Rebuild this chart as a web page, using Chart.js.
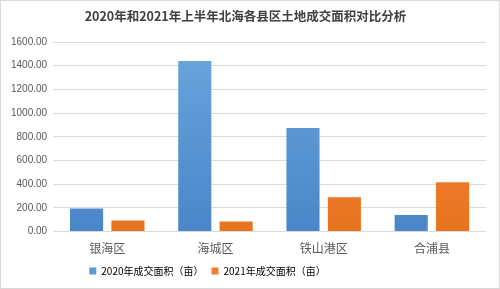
<!DOCTYPE html>
<html>
<head>
<meta charset="utf-8">
<script src="https://cdn.jsdelivr.net/npm/chart.js@4"></script>
<style>
    html, body { margin: 0; padding: 0; background: #fff; }
    #wrap { width: 500px; height: 289px; box-sizing: border-box; border: 1px solid #d9d9d9; }
</style>
</head>
<body>
<div id="wrap"><canvas id="landChart" width="498" height="287"></canvas></div>
<script>
// 데이터
const districts = ['银海区', '海城区', '铁山港区', '合浦县'];
const area2020 = [195, 1440, 875, 141];
const area2021 = [94, 85, 289, 417];
const yTicks = [0, 200, 400, 600, 800, 1000, 1200, 1400, 1600];

// 세로 그라데이션
function makeGradient(ctx, top, bottom) {
    const chart = ctx.chart;
    const area = chart.chartArea;
    if (!area) return bottom;
    const g = chart.ctx.createLinearGradient(0, area.top, 0, area.bottom);
    g.addColorStop(0, top);
    g.addColorStop(1, bottom);
    return g;
}

// 범례를 왼쪽으로 조금 이동
const legendShift = {
    id: 'legendShift',
    afterLayout(chart) {
        chart.legend.left -= 38;
        chart.legend.right -= 38;
    }
};

const fontFamily = '"Noto Sans CJK SC", "Noto Sans", sans-serif';

new Chart(document.getElementById('landChart'), {
    type: 'bar',
    data: {
        labels: districts,
        datasets: [{
            label: '2020年成交面积（亩）',
            data: area2020,
            backgroundColor: ctx => makeGradient(ctx, '#6aa5dc', '#4a86c8'),
            categoryPercentage: 0.765,
            barPercentage: 0.8
        }, {
            label: '2021年成交面积（亩）',
            data: area2021,
            backgroundColor: ctx => makeGradient(ctx, '#f08a3e', '#e8731f'),
            categoryPercentage: 0.765,
            barPercentage: 0.8
        }]
    },
    plugins: [legendShift],
    options: {
        responsive: false,
        animation: false,
        layout: { padding: { left: 4, right: 13, top: 4, bottom: 2 } },
        plugins: {
            title: {
                display: true,
                text: '2020年和2021年上半年北海各县区土地成交面积对比分析',
                color: '#404040',
                font: { family: fontFamily, size: 12.5, weight: 'bold' },
                padding: { top: 4, bottom: 18 }
            },
            legend: {
                position: 'bottom',
                labels: {
                    boxWidth: 7,
                    boxHeight: 7,
                    color: '#595959',
                    font: { family: fontFamily, size: 10 },
                    padding: 8,
                    generateLabels: chart => chart.data.datasets.map((ds, i) => ({
                        text: ds.label,
                        fillStyle: i === 0 ? '#5b9bd5' : '#ed7d31',
                        strokeStyle: 'transparent',
                        lineWidth: 0,
                        datasetIndex: i
                    }))
                }
            },
            tooltip: { enabled: false }
        },
        scales: {
            x: {
                grid: { display: false },
                border: { display: false },
                ticks: {
                    color: '#595959',
                    font: { family: fontFamily, size: 12 },
                    padding: 2
                }
            },
            y: {
                min: 0,
                max: 1600,
                afterBuildTicks: axis => { axis.ticks = yTicks.map(v => ({ value: v })); },
                grid: { color: '#d9d9d9', drawTicks: false },
                border: { display: false },
                ticks: {
                    color: '#595959',
                    font: { family: '"Liberation Sans", Arial, sans-serif', size: 10 },
                    padding: 6,
                    callback: value => Number(value).toFixed(2)
                }
            }
        }
    }
});
</script>
</body>
</html>
